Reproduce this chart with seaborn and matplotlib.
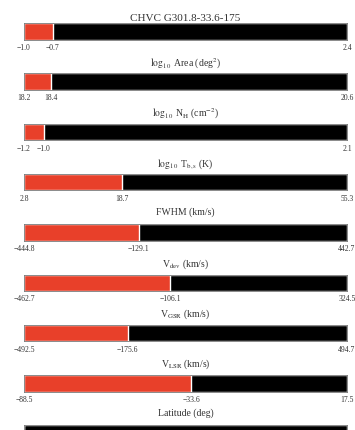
import matplotlib
matplotlib.use("Agg")
import matplotlib.pyplot as plt
import pandas as pd
import seaborn as sns

# Where one cloud sits within the catalogue range of each property
title = "CHVC G301.8-33.6-175"
quantities = [
    r"$\log_{10}$ Area (deg$^2$)",
    r"$\log_{10}$ N$_{\rm H}$ (cm$^{-2}$)",
    r"$\log_{10}$ T$_{\rm b,s}$ (K)",
    "FWHM (km/s)",
    r"V$_{\rm dev}$ (km/s)",
    r"V$_{\rm GSR}$ (km/s)",
    r"V$_{\rm LSR}$ (km/s)",
    "Latitude (deg)",
    "Distance (kpc)",
]
range_min = [-1.0, 18.2, -1.2, 2.8, -444.8, -462.7, -492.5, -88.5, 0.1]
cloud_value = [-0.7, 18.4, -1.0, 18.7, -129.1, -106.1, -175.6, -33.6, 0.1]
range_max = [2.4, 20.6, 2.1, 55.3, 442.7, 324.5, 494.7, 17.5, 30.0]

RED = "#e8402a"

sns.set_theme(style="white")
plt.rcParams["font.family"] = ["Liberation Serif", "DejaVu Serif"]
plt.rcParams["mathtext.fontset"] = "stix"

W, H = 355, 431
fig = plt.figure(figsize=(W / 100, H / 100), dpi=100)

left_px, right_px = 24, 347
top0_px, step_px, bar_px = 24, 50.3, 16.5


def fmt(v):
    return f"{v:.1f}".replace("-", "\u2212")


n = len(quantities)
for i, (q, lo, val, hi) in enumerate(zip(quantities, range_min, cloud_value, range_max)):
    top = top0_px + i * step_px
    ax = fig.add_axes([left_px / W, 1 - (top + bar_px) / H,
                       (right_px - left_px) / W, bar_px / H])
    df = pd.DataFrame({"quantity": [q], "span": [hi - lo], "offset": [val - lo]})
    sns.barplot(data=df, x="span", y="quantity", color="black", width=1,
                saturation=1, ax=ax)
    sns.barplot(data=df, x="offset", y="quantity", color=RED, width=1,
                saturation=1, ax=ax)
    ax.set_xlim(0, hi - lo)
    ax.set_ylim(0.5, -0.5)
    ax.set_yticks([])
    ax.set_ylabel("")
    if i < n - 1:
        ax.set_xticks([0, val - lo, hi - lo])
        ax.set_xticklabels([fmt(lo), fmt(val), fmt(hi)])
        ax.tick_params(axis="x", length=0, pad=2.5, labelsize=5.5, colors="#333333")
        ax.set_xlabel(q, fontsize=7, labelpad=3, color="#333333")
    else:
        # bottom panel runs past the lower edge of the figure
        ax.set_xticks([])
        ax.set_xlabel("")
    for s in ax.spines.values():
        s.set_color("#777777")
        s.set_linewidth(0.6)
    if i == 0:
        ax.set_title(title, fontsize=8, pad=2.5, color="#333333")

fig.savefig("out.png", dpi=100)
